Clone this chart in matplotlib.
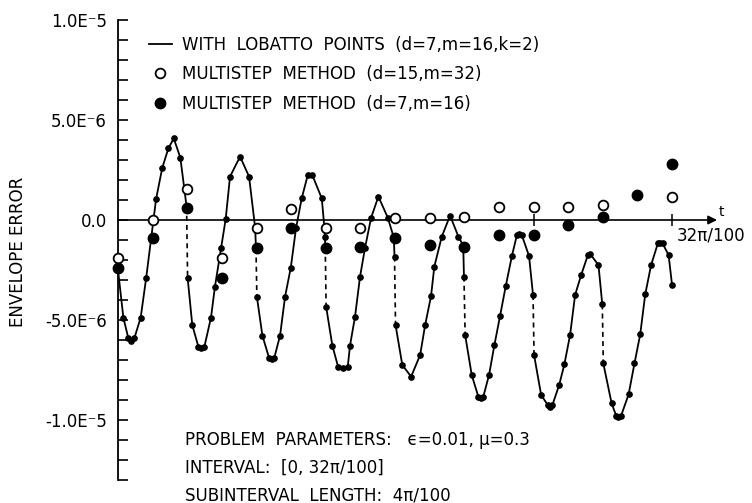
import numpy as np
import matplotlib.pyplot as plt
from matplotlib.lines import Line2D

# t in units of pi/100, errors in units of 1E-6
# Lobatto-point solution (d=7, m=16, k=2), 8 subintervals of length 4pi/100
lob_t = [0.00, 0.31, 0.60, 0.75, 0.94, 1.31, 1.63, 1.91, 2.20, 2.56, 2.91, 3.22, 3.60, 3.96,
         4.02, 4.29, 4.64, 4.82, 4.99, 5.37, 5.60, 5.95, 6.22, 6.47, 7.05, 7.57, 7.92, 7.97,
         8.02, 8.34, 8.72, 8.88, 9.03, 9.36, 9.65, 9.98, 10.28, 10.61, 10.96, 11.22, 11.77,
         11.92, 11.95, 11.97,
         12.02, 12.38, 12.71, 13.00, 13.27, 13.40, 13.69, 13.98, 14.27, 14.62, 15.04, 15.58,
         15.93, 15.97,
         16.03, 16.42, 16.93, 17.45, 17.74, 18.08, 18.27, 18.70, 19.18, 19.66, 19.94, 19.98,
         20.05, 20.43, 20.81, 20.97, 21.10, 21.43, 21.74, 22.07, 22.40, 22.75, 23.04, 23.17,
         23.32, 23.74, 23.97,
         24.03, 24.44, 24.82, 24.96, 25.09, 25.48, 25.78, 26.11, 26.40, 26.75, 27.14, 27.27,
         27.75, 27.97,
         28.03, 28.51, 28.77, 28.90, 29.06, 29.49, 29.83, 30.16, 30.45, 30.79, 31.18, 31.32,
         31.45, 31.80, 32.00]
lob_err = [-2.50, -4.88, -5.92, -6.05, -5.92, -4.88, -2.88, -0.95, 1.05, 2.62, 3.58, 4.08, 3.12, 0.67,
           -2.88, -5.25, -6.33, -6.40, -6.33, -4.88, -3.33, -1.42, 0.05, 2.17, 3.17, 2.17, -0.38, -1.42,
           -3.83, -5.78, -6.88, -6.95, -6.88, -5.78, -3.83, -2.38, -0.42, 1.08, 2.25, 2.25, 1.08,
           -0.38, -0.83, -1.38,
           -4.33, -6.28, -7.33, -7.40, -7.33, -6.28, -4.83, -2.83, -1.38, 0.12, 1.17, 0.12,
           -0.88, -1.83,
           -5.25, -7.25, -7.83, -6.75, -5.25, -3.80, -2.33, -0.83, 0.22, -0.83, -1.28, -2.83,
           -5.75, -7.75, -8.83, -8.90, -8.83, -7.75, -6.25, -4.78, -3.28, -1.80, -0.75, -0.70,
           -0.75, -1.80, -3.75,
           -6.75, -8.75, -9.25, -9.35, -9.25, -8.25, -7.22, -5.75, -3.75, -2.75, -1.75, -1.70,
           -2.25, -4.22,
           -7.17, -9.17, -9.78, -9.85, -9.78, -8.72, -7.17, -5.72, -3.72, -2.25, -1.17, -1.15,
           -1.17, -1.75, -3.25]

# multistep methods, every 2pi/100
ms_t = [0, 2, 4, 6, 8, 10, 12, 14, 16, 18, 20, 22, 24, 26, 28, 30, 32]
ms32_err = [-1.88, 0.00, 1.55, -1.92, -0.38, 0.55, -0.38, -0.42, 0.12, 0.12, 0.17, 0.63,
            0.63, 0.63, 0.75, np.nan, 1.17]   # d=15, m=32
ms16_err = [-2.42, -0.92, 0.58, -2.88, -1.42, -0.42, -1.38, -1.35, -0.88, -1.25, -1.33,
            -0.75, -0.75, -0.25, 0.17, 1.25, 2.78]  # d=7, m=16

SUB_LEN = 4
FS = 12

plt.rcParams['font.family'] = 'DejaVu Sans'
fig = plt.figure(figsize=(7.52, 5.03), dpi=100)
ax = fig.add_axes([118 / 752, 1 - 480 / 503, 606 / 752, 460 / 503])

t = np.array(lob_t)
e = np.array(lob_err)
sub = np.minimum(np.floor(t / SUB_LEN), 7).astype(int)

# solid curve inside each subinterval, dashed jump between them
for k in range(8):
    m = sub == k
    ax.plot(t[m], e[m], color='k', lw=1.3, zorder=3)
    if k < 7:
        i = np.where(m)[0][-1]
        ax.plot(t[i:i + 2], e[i:i + 2], color='k', lw=1.2, ls=(0, (3, 2.5)), zorder=3)
ax.plot(t, e, ls='none', marker='o', ms=3.8, color='k', zorder=4)

ax.plot(ms_t, ms32_err, ls='none', marker='o', ms=7, mfc='white', mec='k', mew=1.3,
        zorder=5, clip_on=False)
ax.plot(ms_t, ms16_err, ls='none', marker='o', ms=7.5, color='k', zorder=6, clip_on=False)

ax.set_xlim(0, 35)
ax.set_ylim(-13, 10)

# y axis
for s in ['top', 'right']:
    ax.spines[s].set_visible(False)
ax.spines['left'].set_linewidth(1.3)
ax.set_yticks([-10, -5, 0, 5, 10])
ax.set_yticklabels(['-1.0E\u207b5', '-5.0E\u207b6', '0.0', '5.0E\u207b6', '1.0E\u207b5'],
                   fontsize=FS)
ax.set_yticks(np.arange(-13, 11), minor=True)
ax.tick_params(axis='y', which='both', direction='in', length=7, width=1.2, pad=8)

# t axis through zero with arrow
ax.spines['bottom'].set_position(('data', 0))
ax.spines['bottom'].set_visible(False)
ax.set_xticks([24, 32])
ax.set_xticklabels([])
ax.tick_params(axis='x', which='both', direction='inout', length=9, width=1.1)
ax.annotate('', xy=(34.6, 0), xytext=(0, 0),
            arrowprops=dict(arrowstyle='-|>', color='k', lw=1.2, mutation_scale=13,
                            shrinkA=0, shrinkB=0), zorder=2)
ax.annotate('t', xy=(34.6, 0), xytext=(1, 1), textcoords='offset points',
            ha='left', va='bottom', fontsize=10)
ax.annotate('32\u03c0/100', xy=(32, 0), xytext=(3, -5), textcoords='offset points',
            ha='left', va='top', fontsize=FS)

fig.text(18 / 752, 1 - 252 / 503, 'ENVELOPE ERROR', rotation=90, ha='center', va='center',
         fontsize=FS)

handles = [Line2D([], [], color='k', lw=1.3),
           Line2D([], [], ls='none', marker='o', ms=7, mfc='white', mec='k', mew=1.3),
           Line2D([], [], ls='none', marker='o', ms=7.5, color='k')]
labels = ['WITH  LOBATTO  POINTS  (d=7,m=16,k=2)',
          'MULTISTEP  METHOD  (d=15,m=32)',
          'MULTISTEP  METHOD  (d=7,m=16)']
ax.legend(handles, labels, loc='upper left', bbox_to_anchor=(149 / 752, 1 - 36 / 503),
          bbox_transform=fig.transFigure, frameon=False, fontsize=FS, handlelength=1.35,
          handletextpad=0.6, labelspacing=0.68, borderpad=0, borderaxespad=0)

notes = ['PROBLEM  PARAMETERS:   \u03f5=0.01, \u03bc=0.3',
         'INTERVAL:  [0, 32\u03c0/100]',
         'SUBINTERVAL  LENGTH:  4\u03c0/100']
for i, s in enumerate(notes):
    fig.text(185 / 752, 1 - (440 + 27.5 * i) / 503, s, ha='left', va='center', fontsize=FS)

fig.savefig('out.png', dpi=100)
